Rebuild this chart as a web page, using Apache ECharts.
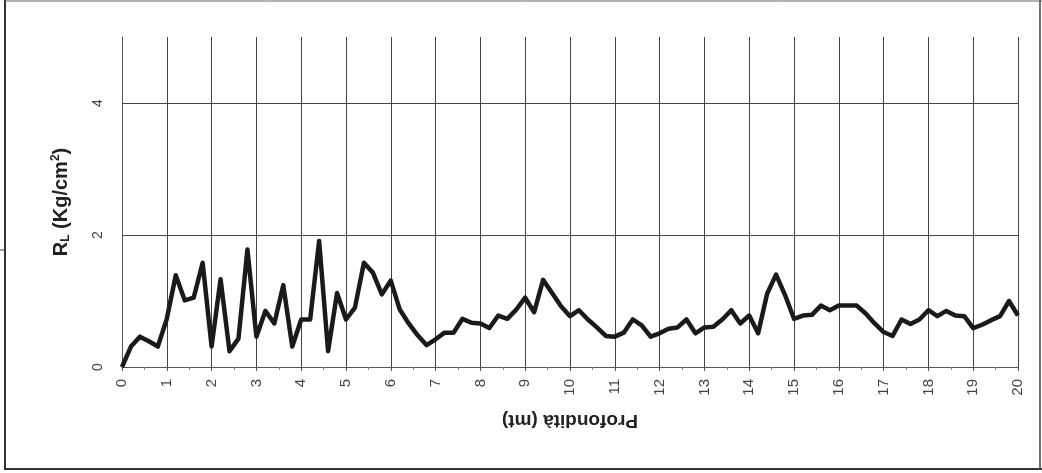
<!DOCTYPE html>
<html>
<head>
<meta charset="utf-8">
<script src="https://cdn.jsdelivr.net/npm/echarts@6/dist/echarts.min.js"></script>
<style>
html,body{margin:0;padding:0;background:#fff;}
#c{width:1042px;height:473px;}
</style>
</head>
<body>
<div id="c"></div>
<script>
const depths = [0,0.2,0.4,0.6,0.8,1,1.2,1.4,1.6,1.8,2,2.2,2.4,2.6,2.8,3,3.2,3.4,3.6,3.8,
4,4.2,4.4,4.6,4.8,5,5.2,5.4,5.6,5.8,6,6.2,6.4,6.6,6.8,7,7.2,7.4,7.6,7.8,
8,8.2,8.4,8.6,8.8,9,9.2,9.4,9.6,9.8,10,10.2,10.4,10.6,10.8,11,11.2,11.4,11.6,11.8,
12,12.2,12.4,12.6,12.8,13,13.2,13.4,13.6,13.8,14,14.2,14.4,14.6,14.8,15,15.2,15.4,15.6,15.8,
16,16.2,16.4,16.6,16.8,17,17.2,17.4,17.6,17.8,18,18.2,18.4,18.6,18.8,19,19.2,19.4,19.6,19.8,20];
const rl = [0.00,0.31,0.46,0.39,0.31,0.73,1.39,1.01,1.05,1.58,0.31,1.33,0.24,0.43,1.78,0.46,0.85,0.66,1.24,0.31,
0.72,0.72,1.91,0.24,1.12,0.72,0.90,1.58,1.43,1.10,1.31,0.87,0.66,0.48,0.33,0.42,0.52,0.52,0.73,0.67,
0.66,0.59,0.78,0.73,0.87,1.05,0.83,1.32,1.12,0.92,0.77,0.86,0.72,0.60,0.47,0.46,0.52,0.72,0.63,0.46,
0.51,0.58,0.60,0.72,0.51,0.60,0.61,0.72,0.86,0.66,0.78,0.51,1.11,1.40,1.09,0.73,0.78,0.79,0.93,0.86,
0.93,0.93,0.93,0.81,0.66,0.53,0.47,0.72,0.65,0.72,0.86,0.77,0.85,0.78,0.77,0.59,0.64,0.71,0.77,1.00,0.78];
const yLabels = [0, 2, 4];
const xTitle = 'Profondità (mt)';

const chart = echarts.init(document.getElementById('c'));
chart.setOption({
  backgroundColor: '#fff',
  animation: false,
  textStyle: { fontFamily: 'Liberation Sans, Arial, sans-serif' },
  graphic: [
    { type: 'line', shape: { x1: 5, y1: 0, x2: 5, y2: 470 }, style: { stroke: '#333', lineWidth: 2 } },
    { type: 'line', shape: { x1: 5, y1: 469, x2: 1042, y2: 469 }, style: { stroke: '#333', lineWidth: 2 } },
    { type: 'line', shape: { x1: 1040, y1: 0, x2: 1040, y2: 470 }, style: { stroke: '#444', lineWidth: 1.5 } },
    { type: 'line', shape: { x1: 5, y1: 1, x2: 1042, y2: 1 }, style: { stroke: '#666', lineWidth: 1 } },
    { type: 'line', shape: { x1: 0, y1: 250, x2: 5, y2: 250 }, style: { stroke: '#444', lineWidth: 1 } }
  ],
  grid: { left: 122, right: 24, top: 37, bottom: 106 },
  xAxis: {
    type: 'value', min: 0, max: 20, interval: 1,
    name: xTitle, nameLocation: 'middle', nameGap: 44,
    nameRotate: 180,
    nameTextStyle: { fontSize: 19, fontWeight: 'bold', color: '#222' },
    axisLine: { show: true, lineStyle: { color: '#555', width: 1 } },
    axisTick: { show: true, length: 4, lineStyle: { color: '#555' } },
    minorTick: { show: true, splitNumber: 2, length: 3, lineStyle: { color: '#888' } },
    axisLabel: { rotate: 90, fontSize: 15, color: '#444', margin: 12 },
    splitLine: { show: true, lineStyle: { color: '#444', width: 1 } }
  },
  yAxis: {
    type: 'value', min: 0, max: 5, interval: 1,
    name: '{b|R}{s|L}{b| (Kg/cm}{p|2}{b|)}', nameLocation: 'middle', nameGap: 50,
    nameTextStyle: {
      rich: {
        b: { fontSize: 20, fontWeight: 'bold', color: '#222' },
        s: { fontSize: 12, fontWeight: 'bold', color: '#222', verticalAlign: 'bottom', padding: [10, 0, 0, 0] },
        p: { fontSize: 12, fontWeight: 'bold', color: '#222', verticalAlign: 'top', padding: [0, 0, 10, 0] }
      }
    },
    axisLine: { show: true, lineStyle: { color: '#555', width: 1 } },
    axisTick: { show: false },
    axisLabel: {
      rotate: 90, fontSize: 14, color: '#444', margin: 17,
      formatter: function (v) { return yLabels.indexOf(v) >= 0 ? String(v) : ''; }
    },
    splitLine: { show: true, lineStyle: { color: ['#444', 'rgba(0,0,0,0)'], width: 1 } }
  },
  series: [{
    type: 'line',
    data: depths.map((d, i) => [d, rl[i]]),
    showSymbol: false,
    symbol: 'none',
    lineStyle: { color: '#1a1a1a', width: 4.5, join: 'round' }
  }]
});
</script>
</body>
</html>
